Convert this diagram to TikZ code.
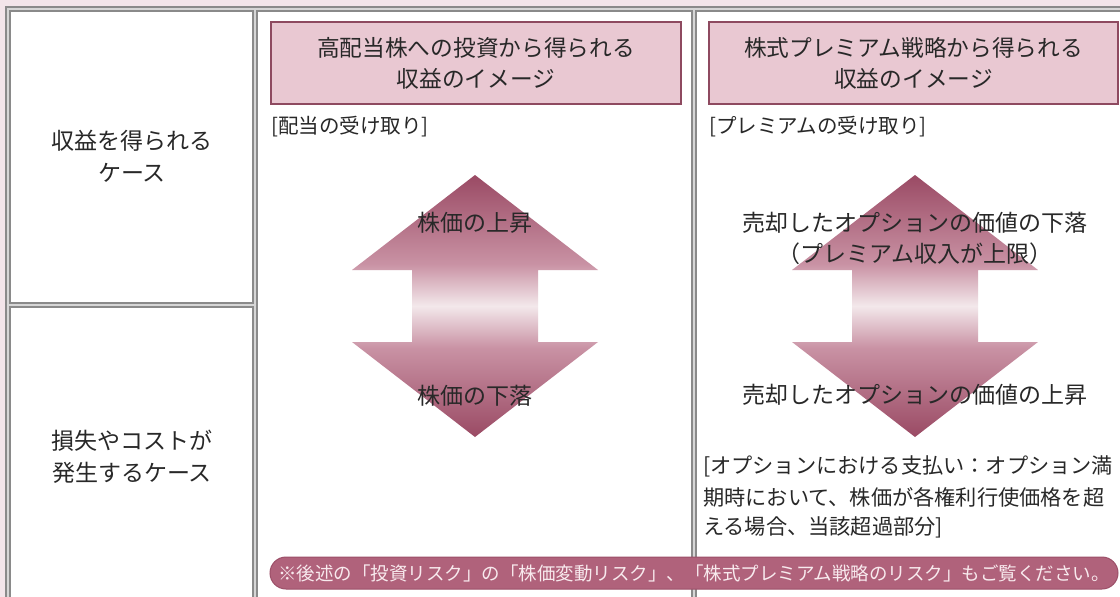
\documentclass[tikz,border=0pt]{standalone}
\usepackage{fontspec}
\newfontfamily\jp{Noto Sans CJK JP}
\definecolor{bgpink}{HTML}{F3E5EA}
\definecolor{hdrfill}{HTML}{E9C8D2}
\definecolor{hdrdraw}{HTML}{8E4A60}
\definecolor{tline}{HTML}{8A8A8A}
\definecolor{tlinein}{HTML}{D6D6D6}
\definecolor{txt}{HTML}{282828}
\definecolor{banfill}{HTML}{B0627B}
\definecolor{bandraw}{HTML}{9C4F68}
\definecolor{bantext}{HTML}{F8EAEE}
\definecolor{arD}{HTML}{9A4A64}
\definecolor{arM}{HTML}{C992A4}
\definecolor{arL}{HTML}{F3E8EB}
\pgfdeclareverticalshading{arrowshade}{100bp}{color(0bp)=(arD); color(25bp)=(arD); color(42bp)=(arM); color(50bp)=(arL); color(58bp)=(arM); color(75bp)=(arD); color(100bp)=(arD)}
\tikzset{
  tblout/.style={line width=5.5pt, draw=tline},
  tblin/.style={line width=1.8pt, draw=tlinein},
  hdr/.style={draw=hdrdraw, line width=1.5pt, fill=hdrfill, text=txt, font=\jp\fontsize{22.7}{31}\selectfont, align=center, inner sep=0pt},
  lbl/.style={text=txt, font=\jp\fontsize{23}{31}\selectfont, align=center, inner sep=0pt},
  side/.style={text=txt, font=\jp\fontsize{23}{32}\selectfont, align=center, inner sep=0pt},
  note/.style={text=txt, font=\jp\fontsize{20.5}{30}\selectfont, inner sep=0pt, anchor=west},
  pay/.style={text=txt, font=\jp\fontsize{21.2}{30}\selectfont, inner sep=0pt, anchor=west},
  banner/.style={draw=bandraw, line width=1pt, fill=banfill, text=bantext, rounded corners=16pt, font=\jp\fontsize{18.5}{22}\selectfont, inner sep=0pt},
  arrowbody/.style={shading=arrowshade}
}
\begin{document}
\begin{tikzpicture}[x=1pt,y=-1pt]
\useasboundingbox (0,0) rectangle (1120,597);
\clip (0,0) rectangle (1120,597);
\fill[bgpink] (0,0) rectangle (1120,597);
\fill[white] (8,9) rectangle (1125,600);
% table lines
\draw[tblout] (8,605) -- (8,9) -- (1125,9);
\draw[tblout] (255,9) -- (255,605);
\draw[tblout] (694,9) -- (694,605);
\draw[tblout] (8,305) -- (255,305);
\draw[tblin] (8,605) -- (8,9) -- (1125,9);
\draw[tblin] (255,9) -- (255,605);
\draw[tblin] (694,9) -- (694,605);
\draw[tblin] (8,305) -- (255,305);
% left column labels
\node[side] (case1) at (132,156) {収益を得られる\\ケース};
\node[side] (case2) at (132,457) {損失やコストが\\発生するケース};
% headers
\node[hdr, minimum width=410pt, minimum height=82pt] (h1) at (476,63) {高配当株への投資から得られる\\収益のイメージ};
\node[hdr, minimum width=409pt, minimum height=82pt] (h2) at (913.5,63) {株式プレミアム戦略から得られる\\収益のイメージ};
\node[note] (n1) at (271,127) {[配当の受け取り]};
\node[note] (n2) at (709,127) {[プレミアムの受け取り]};
% arrows
\shade[arrowbody] (475,175) -- (598,270) -- (538,270) -- (538,342) -- (598,342) -- (475,437) -- (352,342) -- (412,342) -- (412,270) -- (352,270) -- cycle;
\shade[arrowbody] (915,175) -- (1038,270) -- (978,270) -- (978,342) -- (1038,342) -- (915,437) -- (792,342) -- (852,342) -- (852,270) -- (792,270) -- cycle;
\node[lbl] (up1) at (475,223) {株価の上昇};
\node[lbl] (dn1) at (475,396) {株価の下落};
\node[lbl] (up2) at (915,238) {売却したオプションの価値の下落\\（プレミアム収入が上限）};
\node[lbl] (dn2) at (915,395) {売却したオプションの価値の上昇};
% payment note
\node[pay] (p1) at (703,466) {[オプションにおける支払い：オプション満};
\node[pay] (p2) at (703,497) {期時において、株価が各権利行使価格を超};
\node[pay] (p3) at (703,527) {える場合、当該超過部分]};
% banner
\node[banner, minimum width=848pt, minimum height=32pt] (ban) at (694,573) {※後述の「投資リスク」の「株価変動リスク」、「株式プレミアム戦略のリスク」もご覧ください。};
\end{tikzpicture}
\end{document}
